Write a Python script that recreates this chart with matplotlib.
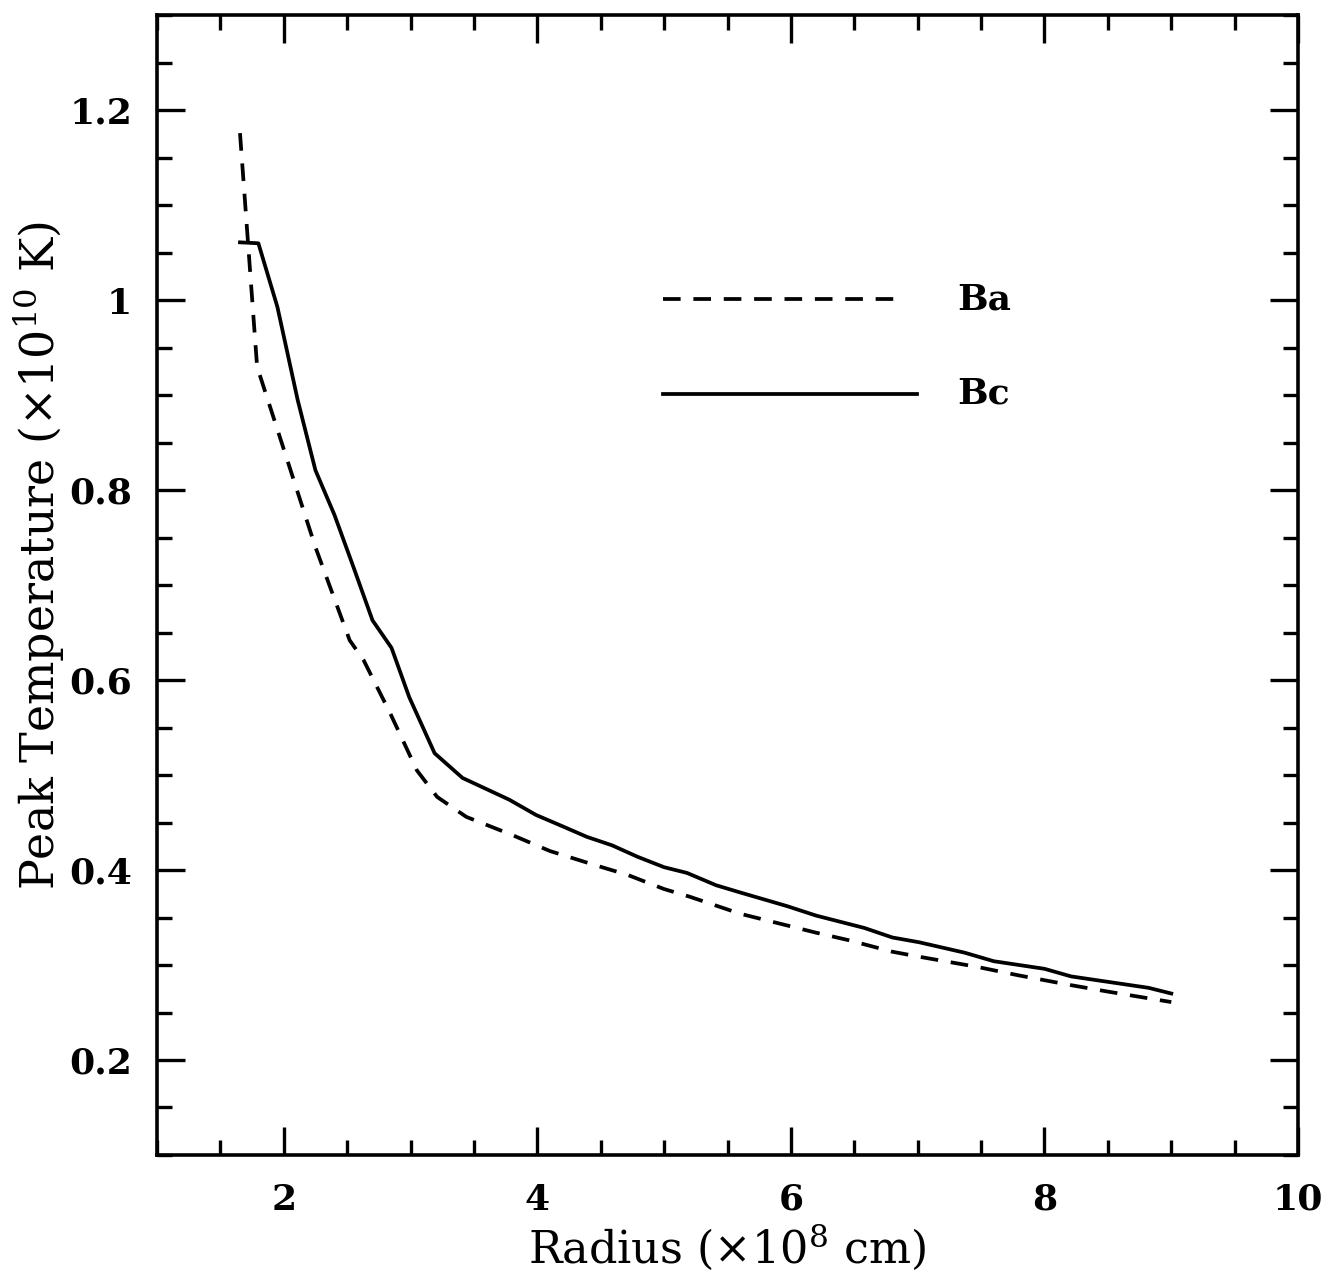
#!/usr/bin/env python3
"""
Peak temperature vs radius for the Ba and Bc runs
"""

import matplotlib
matplotlib.use('Agg')
import matplotlib.pyplot as plt
from matplotlib.ticker import MultipleLocator

# values
ba_radius = [1.655, 1.79, 2.25, 2.52, 2.63, 2.84, 3.05, 3.21, 3.44, 3.8, 4.1,
             4.46, 4.71, 5.0, 5.2, 5.4, 5.6, 5.9, 6.2, 6.46, 6.8, 7.0, 7.47,
             7.8, 8.2, 8.5, 9.0]
ba_temp = [1.176, 0.930, 0.740, 0.642, 0.621, 0.565, 0.505, 0.477, 0.456,
           0.437, 0.420, 0.405, 0.395, 0.380, 0.372, 0.363, 0.354, 0.344,
           0.334, 0.326, 0.314, 0.309, 0.298, 0.289, 0.279, 0.272, 0.261]

bc_radius = [1.655, 1.80, 1.95, 2.11, 2.25, 2.40, 2.55, 2.70, 2.85, 2.99,
             3.19, 3.41, 3.78, 3.99, 4.2, 4.39, 4.59, 4.79, 5.0, 5.18, 5.41,
             5.61, 5.97, 6.2, 6.58, 6.8, 7.01, 7.37, 7.6, 8.0, 8.21, 8.82, 9.0]
bc_temp = [1.061, 1.060, 0.993, 0.895, 0.821, 0.774, 0.719, 0.663, 0.634,
           0.582, 0.523, 0.497, 0.474, 0.458, 0.446, 0.435, 0.426, 0.414,
           0.403, 0.397, 0.384, 0.376, 0.362, 0.352, 0.339, 0.329, 0.324,
           0.313, 0.304, 0.296, 0.288, 0.276, 0.270]

series_labels = ['Ba', 'Bc']
x_ticks = [2, 4, 6, 8, 10]
x_ticklabels = ['2', '4', '6', '8', '10']
y_ticks = [0.2, 0.4, 0.6, 0.8, 1.0, 1.2]
y_ticklabels = ['0.2', '0.4', '0.6', '0.8', '1', '1.2']

plt.rcParams['font.family'] = 'DejaVu Serif'
plt.rcParams['mathtext.fontset'] = 'dejavuserif'

fig = plt.figure(figsize=(13.3, 12.81), dpi=100)
ax = fig.add_axes([0.118, 0.0984, 0.858, 0.8896])

lw = 2.7
dash = (4.7, 3.4)
ax.plot(ba_radius, ba_temp, color='black', lw=lw, linestyle=(0, dash))
ax.plot(bc_radius, bc_temp, color='black', lw=lw)

ax.set_xlim(1, 10)
ax.set_ylim(0.1, 1.3)

# in-plot key drawn the old-fashioned way
ax.plot([0.4435, 0.6556], [0.751, 0.751], transform=ax.transAxes,
        color='black', lw=lw, linestyle=(0, dash))
ax.plot([0.4435, 0.666], [0.668, 0.668], transform=ax.transAxes,
        color='black', lw=lw)
ax.text(0.701, 0.751, series_labels[0], transform=ax.transAxes,
        fontsize=26, fontweight='bold', va='center', ha='left')
ax.text(0.701, 0.668, series_labels[1], transform=ax.transAxes,
        fontsize=26, fontweight='bold', va='center', ha='left')

# ticks on all sides, pointing in
ax.xaxis.set_minor_locator(MultipleLocator(0.5))
ax.yaxis.set_minor_locator(MultipleLocator(0.05))
ax.tick_params(which='both', direction='in', top=True, right=True, width=2.4)
ax.tick_params(which='major', length=20)
ax.tick_params(which='minor', length=11)
ax.tick_params(axis='x', which='major', pad=20)
ax.tick_params(axis='y', which='major', pad=18)
for s in ax.spines.values():
    s.set_linewidth(2.6)

ax.set_xticks(x_ticks)
ax.set_xticklabels(x_ticklabels)
ax.set_yticks(y_ticks)
ax.set_yticklabels(y_ticklabels)
for lab in ax.get_xticklabels() + ax.get_yticklabels():
    lab.set_fontweight('bold')
    lab.set_fontsize(26)

ax.set_xlabel(r'Radius ($\times$10$^{8}$ cm)', fontsize=32, labelpad=4)
ax.set_ylabel(r'Peak Temperature ($\times$10$^{10}$ K)', fontsize=33)
ax.yaxis.set_label_coords(-0.079, 0.526)

plt.savefig('out.png', dpi=100)
plt.close()
